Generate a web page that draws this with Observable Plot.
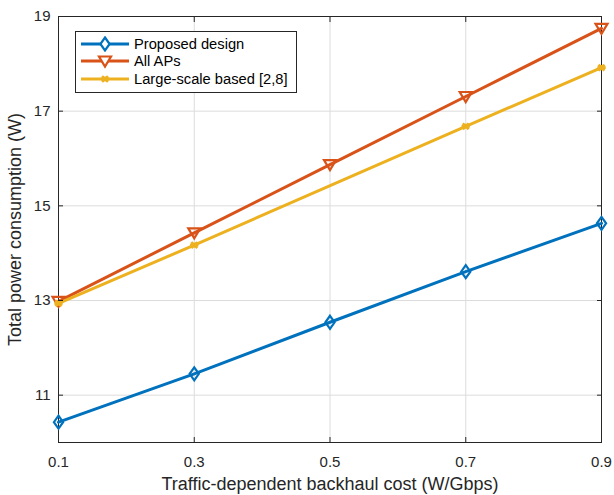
<!DOCTYPE html>
<html>
<head>
<meta charset="utf-8">
<script src="https://cdn.jsdelivr.net/npm/d3@7"></script>
<script src="https://cdn.jsdelivr.net/npm/@observablehq/plot@0.6"></script>
<style>
  html, body { margin: 0; padding: 0; background: #fff; }
  #wrap { position: relative; width: 614px; height: 495px; font-family: "Liberation Sans", Arial, sans-serif; }
  #legend { position: absolute; left: 75px; top: 31px; width: 222px; background: #fff; border: 1px solid #262626; padding: 3px 0 4px 0; box-sizing: border-box; }
  .item { display: flex; align-items: center; height: 17.5px; font-size: 14.7px; color: #000; }
  .item svg { margin-left: 4px; margin-right: 4px; }
</style>
</head>
<body>
<div id="wrap"><div id="chart"></div><div id="legend"></div></div>
<script>
// ---- data ----
const xValues = [0.1, 0.3, 0.5, 0.7, 0.9];
const proposed = [10.43, 11.45, 12.54, 13.61, 14.63];
const allAPs = [12.98, 14.43, 15.87, 17.31, 18.75];
const largeX = [0.1, 0.3, 0.7, 0.9];
const largeScale = [12.94, 14.17, 16.68, 17.92];
const seriesNames = ["Proposed design", "All APs", "Large-scale based [2,8]"];
const colors = ["#0072BD", "#D95319", "#EDB120"];
const xTicks = [0.1, 0.3, 0.5, 0.7, 0.9];
const yTicks = [11, 13, 15, 17, 19];
const xLabel = "Traffic-dependent backhaul cost (W/Gbps)";
const yLabel = "Total power consumption (W)";

// ---- marker shapes ----
const tallDiamond = {draw(ctx) { ctx.moveTo(0, -6.5); ctx.lineTo(4.6, 0); ctx.lineTo(0, 6.5); ctx.lineTo(-4.6, 0); ctx.closePath(); }};
const downTriangle = {draw(ctx) { ctx.moveTo(-6, -4.5); ctx.lineTo(6, -4.5); ctx.lineTo(0, 5.5); ctx.closePath(); }};
const star = {draw(ctx) {
  const r = 4.2;
  ctx.moveTo(-r, 0); ctx.lineTo(r, 0);
  ctx.moveTo(-r*0.7, -r*0.7); ctx.lineTo(r*0.7, r*0.7);
  ctx.moveTo(-r*0.7, r*0.7); ctx.lineTo(r*0.7, -r*0.7);
  ctx.moveTo(0, -r*0.6); ctx.lineTo(0, r*0.6);
}};
const symbols = [tallDiamond, downTriangle, star];

const s1 = xValues.map((x, i) => ({x, y: proposed[i]}));
const s2 = xValues.map((x, i) => ({x, y: allAPs[i]}));
const s3 = largeX.map((x, i) => ({x, y: largeScale[i]}));
const series = [s1, s2, s3];

const axisColor = "#262626";
const marks = [
  Plot.gridX(xTicks, {stroke: "#dcdcdc", strokeOpacity: 1}),
  Plot.gridY(yTicks, {stroke: "#dcdcdc", strokeOpacity: 1}),
  Plot.frame({stroke: axisColor, strokeWidth: 1})
];
series.forEach((data, i) => {
  marks.push(Plot.line(data, {x: "x", y: "y", stroke: colors[i], strokeWidth: 3}));
  marks.push(Plot.dot(data, {x: "x", y: "y", symbol: () => symbols[i], stroke: colors[i], strokeWidth: i === 2 ? 2.6 : 2.2, fill: "none"}));
});
// inward ticks
marks.push(
  Plot.axisX(xTicks, {anchor: "bottom", tickSize: 5, dy: -5, text: null, stroke: axisColor, label: null}),
  Plot.axisX(xTicks, {anchor: "top", tickSize: 5, dy: 5, text: null, stroke: axisColor, label: null}),
  Plot.axisY(yTicks, {anchor: "left", tickSize: 5, dx: 5, text: null, stroke: axisColor, label: null}),
  Plot.axisY(yTicks, {anchor: "right", tickSize: 5, dx: -5, text: null, stroke: axisColor, label: null}),
  Plot.axisX(xTicks, {anchor: "bottom", tickSize: 0, tickPadding: 14, tickFormat: d3.format(".1f"), fontSize: 15, color: axisColor, label: null}),
  Plot.axisY(yTicks, {anchor: "left", tickSize: 0, tickPadding: 8, fontSize: 15, color: axisColor, label: null}),
  Plot.axisX({anchor: "bottom", tickSize: 0, text: null, fontSize: 18, color: axisColor,
    label: xLabel, labelAnchor: "center", labelOffset: 47, labelArrow: "none"}),
  Plot.axisY({anchor: "left", tickSize: 0, text: null, fontSize: 18, color: axisColor,
    label: yLabel, labelAnchor: "center", labelOffset: 50, labelArrow: "none"})
);

const chart = Plot.plot({
  width: 614,
  height: 495,
  marginLeft: 58,
  marginRight: 13,
  marginTop: 16,
  marginBottom: 53,
  style: {fontFamily: "'Liberation Sans', Arial, sans-serif", fontSize: "15px", color: "#262626", background: "white"},
  x: {domain: [0.1, 0.9]},
  y: {domain: [10, 19]},
  marks
});
document.getElementById("chart").appendChild(chart);

// legend
const legend = document.getElementById("legend");
seriesNames.forEach((name, i) => {
  const item = document.createElement("div");
  item.className = "item";
  const svg = d3.create("svg").attr("width", 50).attr("height", 16);
  svg.append("line").attr("x1", 1).attr("x2", 49).attr("y1", 8).attr("y2", 8).attr("stroke", colors[i]).attr("stroke-width", 3);
  const p = d3.path(); symbols[i].draw(p);
  svg.append("path").attr("d", p.toString()).attr("transform", "translate(25,8)").attr("fill", i === 2 ? "none" : "white").attr("stroke", colors[i]).attr("stroke-width", i === 2 ? 2.6 : 2.2);
  item.appendChild(svg.node());
  const span = document.createElement("span");
  span.textContent = name;
  item.appendChild(span);
  legend.appendChild(item);
});
</script>
</body>
</html>
